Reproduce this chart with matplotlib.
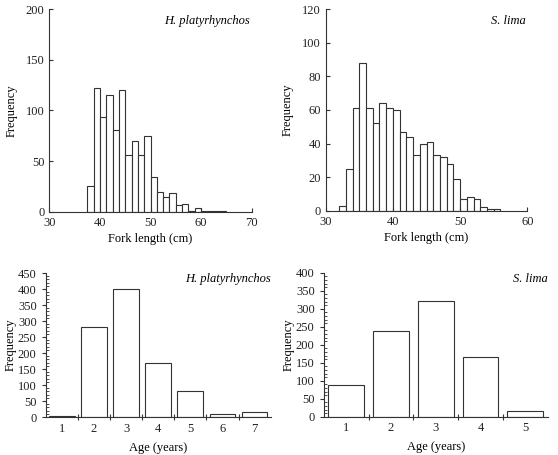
import matplotlib
matplotlib.use("Agg")
import matplotlib.pyplot as plt
from matplotlib.ticker import MultipleLocator
import numpy as np

plt.rcParams['font.family'] = ['Liberation Serif', 'DejaVu Serif']
plt.rcParams['font.size'] = 9

# Data
hp_len_start = 37.5
hp_len_width = 1.25
hp_len_freq = [25, 122, 94, 115, 81, 120, 56, 70, 56, 75, 34, 19, 15, 18, 7, 8, 1, 4, 1, 1, 1, 1]

sl_len_start = 32
sl_len_width = 1.0
sl_len_freq = [3, 25, 61, 88, 61, 52, 64, 61, 60, 47, 44, 33, 40, 41, 33, 32, 28, 19, 7, 8, 7, 2, 1, 1]

hp_age = [1, 2, 3, 4, 5, 6, 7]
hp_age_freq = [4, 282, 400, 169, 81, 8, 15]

sl_age = [1, 2, 3, 4, 5]
sl_age_freq = [87, 237, 321, 166, 17]

W, H = 558, 455
fig = plt.figure(figsize=(W / 100, H / 100), dpi=100)

def ax_px(l, r, t, b):
    return fig.add_axes([l / W, 1 - b / H, (r - l) / W, (b - t) / H])

ec = '#333333'

def style(ax):
    ax.spines['top'].set_visible(False)
    ax.spines['right'].set_visible(False)
    for s in ('left', 'bottom'):
        ax.spines[s].set_color(ec)
        ax.spines[s].set_linewidth(0.8)
    ax.tick_params(colors=ec, labelcolor='#222222', width=0.8, labelsize=9)

def hist(ax, start, width, freq):
    edges = start + width * np.arange(len(freq))
    ax.bar(edges, freq, width=width, align='edge', facecolor='white',
           edgecolor=ec, linewidth=0.8)

# Top-left
ax1 = ax_px(49.3, 251.7, 9.3, 211.7)
hist(ax1, hp_len_start, hp_len_width, hp_len_freq)
ax1.set_xlim(30, 70)
ax1.set_ylim(0, 200)
ax1.set_xticks([30, 40, 50, 60, 70])
ax1.set_yticks([0, 50, 100, 150, 200])
style(ax1)
ax1.tick_params(direction='in', length=3)
ax1.set_xlabel('Fork length (cm)', labelpad=3)
ax1.set_ylabel('Frequency', labelpad=6)
ax1.text(0.99, 0.97, 'H. platyrhynchos', transform=ax1.transAxes,
         ha='right', va='top', style='italic')

# Top-right
ax2 = ax_px(325.7, 527.3, 9.3, 210.7)
hist(ax2, sl_len_start, sl_len_width, sl_len_freq)
ax2.set_xlim(30, 60)
ax2.set_ylim(0, 120)
ax2.set_xticks([30, 40, 50, 60])
ax2.set_yticks([0, 20, 40, 60, 80, 100, 120])
style(ax2)
ax2.tick_params(direction='in', length=3)
ax2.set_xlabel('Fork length (cm)', labelpad=3)
ax2.set_ylabel('Frequency', labelpad=6)
ax2.text(0.99, 0.97, 'S. lima', transform=ax2.transAxes,
         ha='right', va='top', style='italic')

def agebar(ax, ages, freq, ymax, n):
    ax.bar(ages, freq, width=0.8, facecolor='white', edgecolor=ec, linewidth=0.8)
    ax.set_xlim(0.5, n + 0.5)
    ax.set_ylim(0, ymax)
    ax.set_xticks(ages)
    ax.set_xticks(np.arange(1.5, n, 1.0), minor=True)
    ax.yaxis.set_major_locator(MultipleLocator(50))
    ax.yaxis.set_minor_locator(MultipleLocator(10))
    style(ax)
    ax.tick_params(axis='x', which='major', length=0, pad=4)
    ax.tick_params(axis='x', which='minor', direction='inout', length=4, width=0.8, colors=ec)
    ax.tick_params(axis='y', which='major', direction='out', length=3)
    ax.tick_params(axis='y', which='minor', direction='in', length=2, width=0.6, colors=ec)
    ax.set_xlabel('Age (years)', labelpad=5)
    ax.set_ylabel('Frequency', labelpad=1)

ax3 = ax_px(45.7, 270.7, 273, 417)
agebar(ax3, hp_age, hp_age_freq, 450, 7)
ax3.text(1.0, 1.0, 'H. platyrhynchos', transform=ax3.transAxes,
         ha='right', va='top', style='italic')

ax4 = ax_px(323.7, 547.7, 272.7, 416.7)
agebar(ax4, sl_age, sl_age_freq, 400, 5)
ax4.text(1.0, 1.0, 'S. lima', transform=ax4.transAxes,
         ha='right', va='top', style='italic')

fig.savefig('out.png', dpi=100, facecolor='white')
